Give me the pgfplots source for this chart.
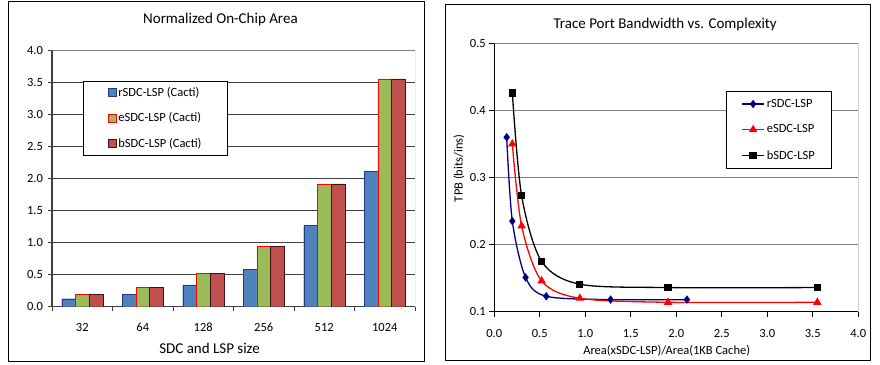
\documentclass[border=0pt]{standalone}
\usepackage{fontspec}
\setmainfont{Carlito}
\usepackage{pgfplots}
\pgfplotsset{compat=1.18}
\definecolor{cblue}{HTML}{4F81BD}
\definecolor{cbluedk}{HTML}{1F3A8A}
\definecolor{cgreen}{HTML}{9BBB59}
\definecolor{cred}{HTML}{C0504D}
\definecolor{creddk}{HTML}{3B1414}
\definecolor{navyc}{HTML}{000080}
\definecolor{gridgray}{HTML}{808080}
\definecolor{axdark}{HTML}{404040}
\newcommand\tf{\fontsize{15}{18}\selectfont}
\newcommand\lf{\fontsize{12.5}{15}\selectfont}
\begin{document}
\begin{tikzpicture}
\useasboundingbox (0,0) rectangle (880pt,364pt);
\draw[line width=1pt, black] (8pt,2.3pt) rectangle (424pt,362pt);
\draw[line width=1pt, black] (445.3pt,4pt) rectangle (870pt,359.7pt);

\begin{axis}[
 at={(52pt,57.3pt)}, anchor=south west,
 scale only axis, width=363pt, height=256pt,
 xmin=-0.5, xmax=5.5, ymin=0, ymax=4,
 ybar=0pt, bar width=13.7pt,
 axis lines=left, axis line style={-, axdark, line width=1.3pt},
 tick align=outside,
 xtick={0,...,5}, xticklabels={32,64,128,256,512,1024},
 major x tick style={draw=none},
 minor xtick={-0.5,0.5,...,5.5},
 minor tick length=4pt,
 minor x tick style={axdark, line width=1pt},
 ytick={0,0.5,1,1.5,2,2.5,3,3.5,4},
 major tick length=4pt,
 y tick style={axdark, line width=1pt},
 ymajorgrids, grid style={axdark, line width=1pt},
 tick label style={font=\lf},
 xticklabel style={yshift=-9pt},
 yticklabel style={xshift=-1.5pt, /pgf/number format/fixed, /pgf/number format/fixed zerofill, /pgf/number format/precision=1},
 /pgf/number format/assume math mode=true,
 title={Normalized On-Chip Area}, title style={font=\tf, at={(axis description cs:0.464,1.1227)}, anchor=center, yshift=-6pt},
 xlabel={SDC and LSP size}, xlabel style={font=\tf, at={(axis description cs:0.434,-0.161)}, anchor=center},
 legend style={at={(axis description cs:0.0854,0.8828)}, anchor=north west, draw=black, line width=1pt, fill=white, font=\lf, inner xsep=24pt, inner ysep=4pt, row sep=11pt},
 legend cell align=left,
 legend image code/.code={\draw[#1, line width=0.8pt] (0pt,-4pt) rectangle (8pt,4pt);},
]
\addplot[fill=cblue, draw=cbluedk] coordinates {(0,0.125) (1,0.19) (2,0.34) (3,0.58) (4,1.27) (5,2.12)};
\addplot[fill=cgreen, draw=red] coordinates {(0,0.19) (1,0.30) (2,0.52) (3,0.94) (4,1.92) (5,3.56)};
\addplot[fill=cred, draw=creddk] coordinates {(0,0.19) (1,0.30) (2,0.52) (3,0.94) (4,1.92) (5,3.56)};
\legend{rSDC-LSP (Cacti), eSDC-LSP (Cacti), bSDC-LSP (Cacti)}
\draw[gridgray, line width=1pt] (rel axis cs:0,1) -- (rel axis cs:1,1) -- (rel axis cs:1,0);
\end{axis}

\begin{axis}[
 at={(494.3pt,52.3pt)}, anchor=south west,
 scale only axis, width=364pt, height=268.4pt,
 xmin=0, xmax=4, ymin=0.1, ymax=0.5,
 axis lines=left, axis line style={-, black, line width=1.2pt},
 tick align=outside, major tick length=5pt, tick style={black, line width=1pt},
 xtick={0,0.5,1,1.5,2,2.5,3,3.5,4}, ytick={0.1,0.2,0.3,0.4,0.5},
 ymajorgrids, grid style={gridgray, line width=1.3pt},
 tick label style={font=\lf, /pgf/number format/fixed, /pgf/number format/fixed zerofill, /pgf/number format/precision=1},
 xticklabel style={yshift=-9pt},
 /pgf/number format/assume math mode=true,
 title={Trace Port Bandwidth vs. Complexity}, title style={font=\tf, at={(axis description cs:0.4695,1.0708)}, anchor=center, yshift=-6pt},
 xlabel={Area(xSDC-LSP)/Area(1KB Cache)}, xlabel style={font=\lf, at={(axis description cs:0.4736,-0.1453)}, anchor=center},
 ylabel={TPB (bits/ins)}, every axis y label/.style={font=\lf, at={(axis description cs:-0.097,0.534)}, anchor=center, rotate=90},
 legend style={at={(axis description cs:0.6365,0.8234)}, anchor=north west, draw=black, line width=1pt, fill=white, font=\lf, inner xsep=15pt, inner ysep=6pt, row sep=12pt},
 legend cell align=left,
 legend image code/.code={\draw[mark repeat=2, mark phase=2, #1] plot coordinates {(0pt,0pt) (11pt,0pt) (22pt,0pt)};},
]
\addplot[navyc, line width=1.3pt, smooth, mark=diamond*, mark size=3.2pt, mark options={solid}] coordinates {(0.136,0.360) (0.198,0.235) (0.344,0.151) (0.571,0.123) (1.278,0.118) (2.117,0.118)};
\addplot[red, line width=1.3pt, smooth, mark=triangle*, mark size=3.6pt, mark options={solid}] coordinates {(0.198,0.350) (0.30,0.228) (0.52,0.146) (0.94,0.120) (1.91,0.114) (3.55,0.114)};
\addplot[black, line width=1.3pt, smooth, mark=square*, mark size=3pt, mark options={solid}] coordinates {(0.198,0.426) (0.30,0.273) (0.52,0.175) (0.94,0.141) (1.91,0.136) (3.55,0.136)};
\legend{rSDC-LSP, eSDC-LSP, bSDC-LSP}
\draw[gridgray, line width=1.3pt] (rel axis cs:0,1) -- (rel axis cs:1,1) -- (rel axis cs:1,0);
\end{axis}
\end{tikzpicture}
\end{document}
